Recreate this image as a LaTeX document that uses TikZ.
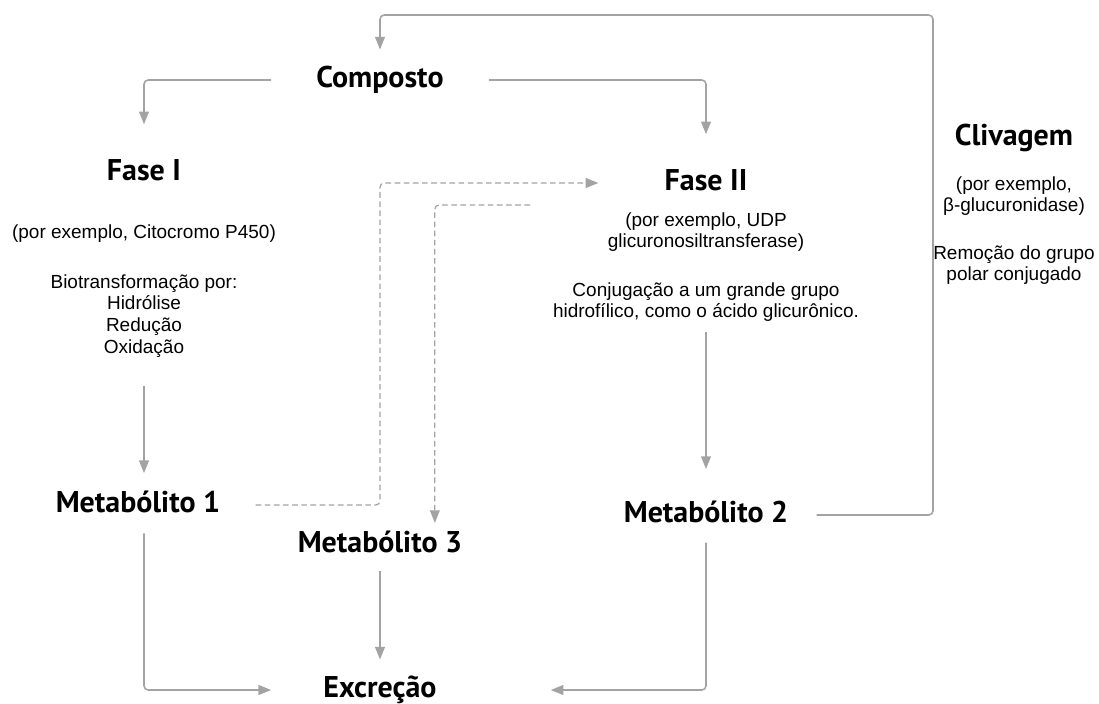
\documentclass[tikz,border=0pt]{standalone}
\usepackage{fontspec}
\setmainfont{Liberation Sans}
\newfontfamily\titlefont{PT Sans}
\usepackage{xcolor}
\usetikzlibrary{positioning,arrows.meta}
\definecolor{linegray}{HTML}{A3A3A3}

\begin{document}
\begin{tikzpicture}[
  x=0.025cm, y=-0.025cm,
  title/.style={font=\titlefont\bfseries\fontsize{21.3}{24}\selectfont, text height=15pt, text depth=4pt, inner sep=2pt},
  note/.style={font=\fontsize{13.5}{15.5}\selectfont, align=center, inner sep=0pt},
  flow/.style={draw=linegray, line width=1.1pt, rounded corners=3pt, -{Triangle[length=9pt,width=7pt]}},
  weak/.style={flow, line width=0.9pt, dash pattern=on 4pt off 2.5pt}
]
\useasboundingbox (0,0) rectangle (1099,704);

% Titles
\node[title] (comp) at (380,80) {Composto};
\node[title] (fase1) at (144,173) {Fase I};
\node[title] (fase2) at (706,183) {Fase II};
\node[title] (cliv) at (1014,138) {Clivagem};
\node[title] (meta1) at (138,505) {Metabólito 1};
\node[title] (meta3) at (380,545) {Metabólito 3};
\node[title] (meta2) at (706,515) {Metabólito 2};
\node[title] (excr) at (380,690) {Excreção};

% Notes
\node[note] (f1ex) at (144,234) {(por exemplo, Citocromo P450)};
\node[note] (f1bio) at (144,316) {Biotransformação por:\\Hidrólise\\Redução\\Oxidação};
\node[note] (f2ex) at (706,232) {(por exemplo, UDP\\glicuronosiltransferase)};
\node[note] (f2conj) at (706,302) {Conjugação a um grande grupo\\hidrofílico, como o ácido glicurônico.};
\node[note] (clex) at (1014,196) {(por exemplo,\\β-glucuronidase)};
\node[note] (clrem) at (1014,265) {Remoção do grupo\\polar conjugado};

% Connectors
\coordinate (loop) at (933,15);
\coordinate (f2tail) at (530,205);

\draw[flow, shorten <=30pt, shorten >=23pt] (comp.west) -| (fase1.north);
\draw[flow, shorten <=30pt, shorten >=23pt] (comp.east) -| (fase2.north);
\draw[flow, shorten <=20pt, shorten >=11pt] (f1bio.south) -- (f1bio.south |- meta1.north);
\draw[flow, shorten <=8.5pt, shorten >=35pt] (meta1.south -| f1bio.south) |- (excr.west);
\draw[flow, shorten <=6.5pt, shorten >=10pt] (meta3.south) -- (excr.north);
\draw[flow, shorten <=7pt, shorten >=21pt] (f2conj.south) -- (meta2.north);
\draw[flow, shorten <=8pt, shorten >=79pt] (meta2.south) |- (excr.east);
\draw[flow, shorten <=18pt, shorten >=10pt] (meta2.east) -| (loop) -| (comp.north);

\draw[weak, shorten <=23pt, shorten >=45pt] (meta1.east) -| (comp |- fase2.west) -- (fase2.west);
\draw[weak, shorten >=4pt] (f2tail) -| ([xshift=39pt]meta3.north);

\end{tikzpicture}
\end{document}
